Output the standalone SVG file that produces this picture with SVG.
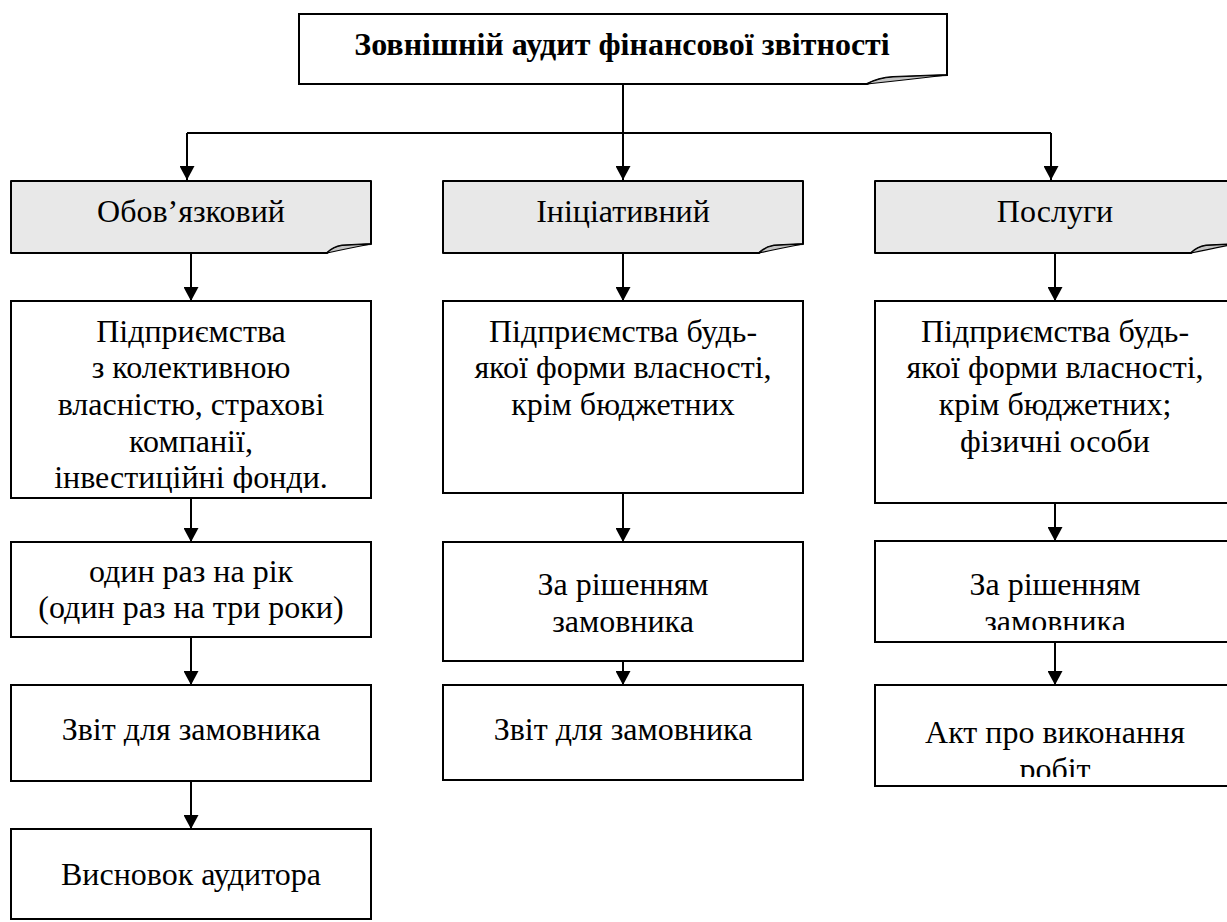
<svg xmlns="http://www.w3.org/2000/svg" width="1227" height="922" viewBox="0 0 1227 922">
<style>
.box{fill:#fff;stroke:#000;stroke-width:2}
.hdr{fill:#e8e8e8;stroke:#000;stroke-width:2;stroke-linejoin:round}
.curl{fill:#c4c4c4;stroke:#000;stroke-width:1.2;stroke-linejoin:round}
.ln{fill:none;stroke:#000;stroke-width:2}
</style>
<defs>
<marker id="arr" viewBox="0 0 14 15" refX="14" refY="7.5" markerWidth="14" markerHeight="15" markerUnits="userSpaceOnUse" orient="auto">
<path d="M0,0 L14,7.5 L0,15 Z" fill="#000"/>
</marker>
<clipPath id="c1"><rect x="11" y="301" width="360" height="192"/></clipPath>
<clipPath id="c2"><rect x="875" y="541" width="360" height="89"/></clipPath>
<clipPath id="c3"><rect x="875" y="685" width="360" height="92"/></clipPath>
</defs>

<g id="connectors">
<line class="ln" x1="623" y1="85" x2="623" y2="180" marker-end="url(#arr)"/>
<line class="ln" x1="187" y1="133" x2="1051" y2="133"/>
<line class="ln" x1="187" y1="133" x2="187" y2="180" marker-end="url(#arr)"/>
<line class="ln" x1="1051" y1="133" x2="1051" y2="180" marker-end="url(#arr)"/>
<line class="ln" x1="191" y1="253" x2="191" y2="301" marker-end="url(#arr)"/>
<line class="ln" x1="623" y1="253" x2="623" y2="301" marker-end="url(#arr)"/>
<line class="ln" x1="1055" y1="253" x2="1055" y2="301" marker-end="url(#arr)"/>
<line class="ln" x1="191" y1="498" x2="191" y2="542" marker-end="url(#arr)"/>
<line class="ln" x1="191" y1="637" x2="191" y2="685" marker-end="url(#arr)"/>
<line class="ln" x1="191" y1="781" x2="191" y2="829" marker-end="url(#arr)"/>
<line class="ln" x1="623" y1="493" x2="623" y2="542" marker-end="url(#arr)"/>
<line class="ln" x1="623" y1="661" x2="623" y2="685" marker-end="url(#arr)"/>
<line class="ln" x1="1055" y1="503" x2="1055" y2="541" marker-end="url(#arr)"/>
<line class="ln" x1="1055" y1="642" x2="1055" y2="685" marker-end="url(#arr)"/>
</g>

<g font-family="Liberation Serif" font-size="32" text-anchor="middle" fill="#000">

<g id="title">
<path class="box" d="M299,14 H947 V75 L893,77 Q878,78 867,84 H299 Z"/>
<path class="curl" d="M867,84 Q878,78 893,77 L947,75 Q905,80 867,84 Z"/>
<text x="622" y="55" font-weight="bold">Зовнішній аудит фінансової звітності</text>
</g>

<g id="h-oblig">
<path class="hdr" d="M11,181 H371 V244 L342,245.5 Q333,247 327,253 H11 Z"/>
<path class="curl" d="M327,253 Q333,247 342,245.5 L371,244 Q345,249 327,253 Z"/>
<text x="191" y="222">Обов’язковий</text>
</g>
<g id="h-init">
<path class="hdr" d="M443,181 H803 V244 L774,245.5 Q765,247 759,253 H443 Z"/>
<path class="curl" d="M759,253 Q765,247 774,245.5 L803,244 Q777,249 759,253 Z"/>
<text x="623" y="222">Ініціативний</text>
</g>
<g id="h-serv">
<path class="hdr" d="M875,181 H1235 V244 L1206,245.5 Q1197,247 1191,253 H875 Z"/>
<path class="curl" d="M1191,253 Q1197,247 1206,245.5 L1235,244 Q1209,249 1191,253 Z"/>
<text x="1055" y="222">Послуги</text>
</g>

<g id="l2">
<rect class="box" x="11" y="301" width="360" height="197"/>
<g clip-path="url(#c1)">
<text x="191" y="341.7">Підприємства</text>
<text x="191" y="378.3">з колективною</text>
<text x="191" y="415">власністю, страхові</text>
<text x="191" y="451.7">компанії,</text>
<text x="191" y="488.3">інвестиційні фонди.</text>
</g>
</g>
<g id="l3">
<rect class="box" x="11" y="542" width="360" height="95"/>
<text x="191" y="581.7">один раз на рік</text>
<text x="191" y="618.3">(один раз на три роки)</text>
</g>
<g id="l4">
<rect class="box" x="11" y="685" width="360" height="96"/>
<text x="191" y="740">Звіт для замовника</text>
</g>
<g id="l5">
<rect class="box" x="11" y="829" width="360" height="90"/>
<text x="191" y="885">Висновок аудитора</text>
</g>

<g id="m2">
<rect class="box" x="443" y="301" width="360" height="192"/>
<text x="623" y="341.7">Підприємства будь-</text>
<text x="623" y="378.3">якої форми власності,</text>
<text x="623" y="415">крім бюджетних</text>
</g>
<g id="m3">
<rect class="box" x="443" y="542" width="360" height="119"/>
<text x="623" y="595">За рішенням</text>
<text x="623" y="631.7">замовника</text>
</g>
<g id="m4">
<rect class="box" x="443" y="685" width="360" height="95"/>
<text x="623" y="740">Звіт для замовника</text>
</g>

<g id="r2">
<rect class="box" x="875" y="301" width="360" height="202"/>
<text x="1055" y="341.7">Підприємства будь-</text>
<text x="1055" y="378.3">якої форми власності,</text>
<text x="1055" y="415">крім бюджетних;</text>
<text x="1055" y="451.7">фізичні особи</text>
</g>
<g id="r3">
<rect class="box" x="875" y="541" width="360" height="101"/>
<g clip-path="url(#c2)">
<text x="1055" y="595">За рішенням</text>
<text x="1055" y="631.7">замовника</text>
</g>
</g>
<g id="r4">
<rect class="box" x="875" y="685" width="360" height="101"/>
<g clip-path="url(#c3)">
<text x="1055" y="743.3">Акт про виконання</text>
<text x="1055" y="780">робіт</text>
</g>
</g>

</g>
</svg>
